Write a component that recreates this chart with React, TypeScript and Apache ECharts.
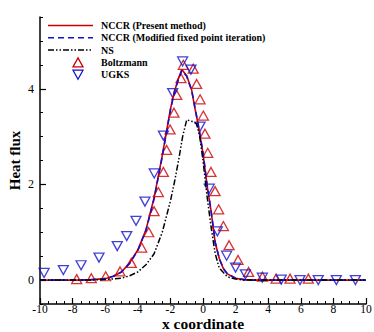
import React, { useEffect, useRef } from "react";
import * as echarts from "echarts";

// NCCR (Present method)
const nccrX = [-10, -8, -7, -6, -5.5, -5, -4.5, -4, -3.5, -3, -2.5, -2, -1.75, -1.5, -1.3, -1.0, -0.7, -0.5, -0.3, 0, 0.25, 0.5, 0.75, 1, 1.25, 1.5, 2, 2.5, 3, 4, 10];
const nccrY = [0, 0, 0.005, 0.03, 0.08, 0.17, 0.36, 0.63, 1.05, 1.72, 2.6, 3.57, 3.95, 4.22, 4.4, 4.27, 3.98, 3.6, 3.25, 2.65, 1.98, 1.43, 0.78, 0.45, 0.24, 0.13, 0.04, 0.01, 0, 0, 0];
// NCCR (Modified fixed point iteration)
const mfpiX = [-10, -8, -7, -6, -5.5, -5, -4.5, -4, -3.5, -3, -2.5, -2, -1.75, -1.5, -1.3, -1.0, -0.7, -0.5, -0.3, 0, 0.25, 0.5, 0.75, 1, 1.25, 1.5, 2, 2.5, 3, 4, 10];
const mfpiY = [0, 0, 0.005, 0.03, 0.08, 0.17, 0.35, 0.62, 1.04, 1.7, 2.58, 3.55, 3.94, 4.2, 4.38, 4.26, 3.97, 3.62, 3.27, 2.67, 2.0, 1.44, 0.79, 0.45, 0.24, 0.13, 0.04, 0.01, 0, 0, 0];
// NS
const nsX = [-10, -7, -6, -5, -4.5, -4, -3.5, -3, -2.5, -2, -1.75, -1.5, -1.25, -1.0, -0.7, -0.4, -0.2, 0, 0.25, 0.5, 0.75, 1, 1.5, 2, 2.5, 10];
const nsY = [0, 0, 0.01, 0.04, 0.09, 0.17, 0.32, 0.55, 1.0, 1.65, 2.05, 2.5, 3.0, 3.35, 3.32, 3.27, 3.0, 2.5, 1.75, 1.1, 0.55, 0.25, 0.07, 0.02, 0, 0];
// Boltzmann
const boltzX = [-7.75, -6.85, -5.97, -5.09, -4.4, -3.76, -3.33, -3.0, -2.74, -2.43, -2.23, -2.02, -1.78, -1.61, -1.35, -1.21, -0.6, -0.39, -0.18, 0.02, 0.12, 0.29, 0.49, 0.74, 0.96, 1.25, 1.6, 2.15, 2.8, 3.65, 4.48, 5.34, 6.46];
const boltzY = [0.02, 0.04, 0.08, 0.18, 0.36, 0.68, 1.0, 1.44, 1.84, 2.26, 2.72, 3.15, 3.5, 3.87, 4.22, 4.5, 4.42, 4.1, 3.78, 3.44, 3.06, 2.66, 2.26, 1.86, 1.48, 1.13, 0.73, 0.42, 0.17, 0.07, 0.03, 0.03, 0.03];
// UGKS
const ugksX = [-9.75, -8.57, -7.48, -6.38, -5.26, -4.68, -4.11, -3.56, -2.99, -2.43, -1.86, -1.25, -0.74, -0.18, 0.38, 0.88, 1.45, 2.0, 2.6, 3.64, 4.8, 5.95, 7.07, 8.18, 9.35];
const ugksY = [0.15, 0.21, 0.31, 0.47, 0.71, 0.92, 1.24, 1.64, 2.23, 3.02, 3.91, 4.57, 4.4, 3.21, 1.91, 1.02, 0.51, 0.26, 0.12, 0.05, 0.01, 0, 0, 0, 0];

// Axis ticks
const yMajorTicks = [0, 2, 4];
const yMinorTicks = [-0.5, 0.5, 1, 1.5, 2.5, 3, 3.5, 4.5, 5, 5.5];

const seriesNames = [
  "NCCR (Present method)",
  "NCCR (Modified fixed point iteration)",
  "NS",
  "Boltzmann",
  "UGKS",
];

const zip = (xs: number[], ys: number[]) => xs.map((x, i) => [x, ys[i]]);

const FONT = "'Liberation Serif', 'Times New Roman', serif";
const RED = "#cc0000";
const BLUE = "#1111cc";
const NS_DASH = [6, 2, 1.5, 2, 1.5, 2];
const BLUE_DASH = [6, 4];

function legendGraphic() {
  const x0 = 48, x1 = 93, tx = 101, top = 25.5, gap = 12.3, tcx = 78;
  const els: any[] = [];
  const rows = [0, 1, 2, 3, 4].map((i) => top + i * gap);
  els.push({ type: "line", shape: { x1: x0, y1: rows[0], x2: x1, y2: rows[0] }, style: { stroke: RED, lineWidth: 1.6 } });
  els.push({ type: "line", shape: { x1: x0, y1: rows[1], x2: x1, y2: rows[1] }, style: { stroke: BLUE, lineWidth: 1.6, lineDash: BLUE_DASH } });
  els.push({ type: "line", shape: { x1: x0, y1: rows[2], x2: x1, y2: rows[2] }, style: { stroke: "#000", lineWidth: 1.5, lineDash: NS_DASH } });
  const r3 = rows[3];
  els.push({ type: "polygon", shape: { points: [[tcx - 5, r3 + 4.5], [tcx + 5, r3 + 4.5], [tcx, r3 - 4.5]] }, style: { fill: "none", stroke: RED, lineWidth: 1.3 } });
  const r4 = rows[4];
  els.push({ type: "polygon", shape: { points: [[tcx - 5, r4 - 4.5], [tcx + 5, r4 - 4.5], [tcx, r4 + 4.5]] }, style: { fill: "none", stroke: BLUE, lineWidth: 1.3 } });
  seriesNames.forEach((name, i) => {
    els.push({
      type: "text",
      x: tx,
      y: rows[i],
      style: { text: name, fontFamily: FONT, fontWeight: "bold", fontSize: 10, fill: "#000", verticalAlign: "middle", align: "left" },
    });
  });
  return els;
}

export default function App() {
  const ref = useRef<HTMLDivElement>(null);
  useEffect(() => {
    if (!ref.current) return;
    const chart = echarts.init(ref.current, undefined, { renderer: "svg" });
    const axisLine = { show: true, onZero: false, lineStyle: { color: "#000", width: 1.5 } };
    chart.setOption({
      animation: false,
      backgroundColor: "#fff",
      grid: { left: 40, right: 8, top: 17, bottom: 28, containLabel: false, outerBoundsMode: "none" },
      graphic: legendGraphic(),
      xAxis: {
        type: "value",
        min: -10,
        max: 10,
        interval: 2,
        axisLine,
        axisTick: { show: true, inside: true, length: 6, lineStyle: { color: "#000", width: 1.2 } },
        minorTick: { show: true, splitNumber: 4, length: 3, lineStyle: { color: "#000", width: 1 } },
        splitLine: { show: false },
        axisLabel: { fontFamily: FONT, fontSize: 11.5, color: "#000", margin: -1.5 },
        name: "x coordinate",
        nameLocation: "middle",
        nameGap: 11.5,
        nameMoveOverlap: false,
        nameTextStyle: { fontFamily: FONT, fontWeight: "bold", fontSize: 15.5, color: "#000", verticalAlign: "top" },
      },
      yAxis: [
        {
          type: "value",
          min: -0.5,
          max: 5.5,
          axisLine,
          axisTick: { show: true, inside: true, length: 6, customValues: yMajorTicks, lineStyle: { color: "#000", width: 1.2 } },
          axisLabel: { fontFamily: FONT, fontSize: 12, color: "#000", margin: 6, customValues: yMajorTicks },
          splitLine: { show: false },
          name: "Heat flux",
          nameLocation: "middle",
          nameGap: 18,
          nameRotate: 90,
          nameMoveOverlap: false,
          nameTextStyle: { fontFamily: FONT, fontWeight: "bold", fontSize: 15, color: "#000" },
        },
        {
          type: "value",
          min: -0.5,
          max: 5.5,
          position: "left",
          axisLine: { show: false, onZero: false },
          axisTick: { show: true, inside: true, length: 3, customValues: yMinorTicks, lineStyle: { color: "#000", width: 1 } },
          axisLabel: { show: false },
          splitLine: { show: false },
        },
      ],
      series: [
        {
          name: seriesNames[0],
          type: "line",
          data: zip(nccrX, nccrY),
          symbol: "none",
          lineStyle: { color: RED, width: 1.6 },
          itemStyle: { color: RED },
        },
        {
          name: seriesNames[1],
          type: "line",
          data: zip(mfpiX, mfpiY),
          symbol: "none",
          lineStyle: { color: BLUE, width: 1.6, type: BLUE_DASH },
          itemStyle: { color: BLUE },
        },
        {
          name: seriesNames[2],
          type: "line",
          data: zip(nsX, nsY),
          symbol: "none",
          lineStyle: { color: "#000", width: 1.5, type: NS_DASH },
          itemStyle: { color: "#000" },
        },
        {
          name: seriesNames[3],
          type: "scatter",
          data: zip(boltzX, boltzY),
          symbol: "triangle",
          symbolSize: [10, 9],
          itemStyle: { color: "none", borderColor: RED, borderWidth: 1.3 },
        },
        {
          name: seriesNames[4],
          type: "scatter",
          data: zip(ugksX, ugksY),
          symbol: "triangle",
          symbolRotate: 180,
          symbolSize: [10, 9],
          itemStyle: { color: "none", borderColor: BLUE, borderWidth: 1.3 },
        },
      ],
    });
    return () => chart.dispose();
  }, []);
  return <div ref={ref} style={{ position: "absolute", left: 0, top: 0, width: 374, height: 332 }} />;
}
